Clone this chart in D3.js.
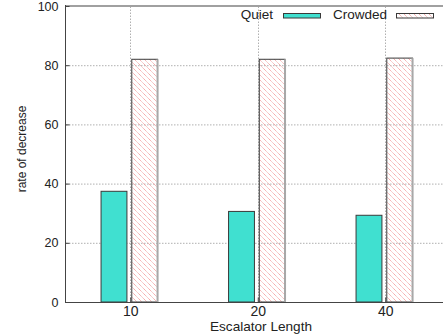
<!DOCTYPE html>
<html><head><meta charset="utf-8">
<script src="https://cdn.jsdelivr.net/npm/d3@7"></script>
<style>body{margin:0;background:#fff}svg{display:block;font-family:"Liberation Sans",Arial,sans-serif}</style>
</head><body>
<svg id="c" width="443" height="336"></svg>
<script>
const categories = ["10", "20", "40"];
const quiet = [37.4, 30.6, 29.3];
const crowded = [82.0, 82.0, 82.4];
const yTicks = [0, 20, 40, 60, 80, 100];
const seriesNames = ["Quiet", "Crowded"];

const svg = d3.select("#c");
const x = d3.scaleLinear().domain([-0.5, 2.5]).range([66.5, 449]);
const y = d3.scaleLinear().domain([0, 100]).range([302, 6]);

const defs = svg.append("defs");
const pat = defs.append("pattern").attr("id", "hatch").attr("patternUnits", "userSpaceOnUse")
  .attr("width", 5).attr("height", 5);
pat.append("path").attr("d", "M-1,-1 L6,6 M-1,4 L1,6 M4,-1 L6,1")
  .attr("stroke", "#f3a0a0").attr("stroke-width", 1).attr("stroke-dasharray", "1.2,0.6");

// grid
const g = svg.append("g");
g.selectAll("line.hg").data(yTicks.filter(d => d > 0 && d < 100)).join("line")
  .attr("x1", 66).attr("x2", 443).attr("y1", d => y(d) + 0.5).attr("y2", d => y(d) + 0.5)
  .attr("stroke", "#b0b0b0").attr("stroke-dasharray", "1.5,1.5");
g.selectAll("line.vg").data(categories).join("line")
  .attr("x1", (d, i) => Math.round(x(i)) + 0.5).attr("x2", (d, i) => Math.round(x(i)) + 0.5)
  .attr("y1", y(0)).attr("y2", y(100))
  .attr("stroke", "#b0b0b0").attr("stroke-dasharray", "1.5,1.5");

// bars
const bw0 = [-0.229, -0.026], bw1 = [0.012, 0.214];
svg.selectAll("rect.q").data(quiet).join("rect")
  .attr("x", (d, i) => x(i + bw0[0])).attr("width", (d, i) => x(i + bw0[1]) - x(i + bw0[0]))
  .attr("y", d => y(d)).attr("height", d => y(0) - y(d))
  .attr("fill", "#40e0d0").attr("stroke", "#3a3a3a").attr("stroke-width", 1);
svg.selectAll("rect.c").data(crowded).join("rect")
  .attr("x", (d, i) => x(i + bw1[0])).attr("width", (d, i) => x(i + bw1[1]) - x(i + bw1[0]))
  .attr("y", d => y(d)).attr("height", d => y(0) - y(d))
  .attr("fill", "url(#hatch)").attr("stroke", "#3a3a3a").attr("stroke-width", 1);
svg.selectAll("line.cr").data(crowded).join("line")
  .attr("x1", (d, i) => x(i + bw1[1])).attr("x2", (d, i) => x(i + bw1[1]))
  .attr("y1", d => y(d)).attr("y2", y(0))
  .attr("stroke", "#a8a8a8").attr("stroke-width", 2);

// frame
svg.append("line").attr("x1", 65).attr("x2", 443).attr("y1", 6).attr("y2", 6)
  .attr("stroke", "#a0a0a0").attr("stroke-width", 2);
svg.append("line").attr("x1", 65.5).attr("x2", 65.5).attr("y1", 5).attr("y2", 302.5)
  .attr("stroke", "#444").attr("stroke-width", 1);
svg.append("line").attr("x1", 65).attr("x2", 443).attr("y1", 302.5).attr("y2", 302.5)
  .attr("stroke", "#444").attr("stroke-width", 1);

// y axis
const ya = svg.append("g").attr("transform", "translate(65.5,0)")
  .call(d3.axisLeft(y).tickValues(yTicks).tickSizeInner(-4).tickSizeOuter(0).tickPadding(7).tickFormat(d3.format("d")));
ya.select(".domain").remove();
ya.selectAll(".tick line").attr("stroke", "#444");
ya.selectAll("text").attr("font-size", 12.5).attr("fill", "#222").attr("font-family", "Liberation Sans, Arial, sans-serif");

// x axis
const xa = svg.append("g").attr("transform", "translate(0,302.5)")
  .call(d3.axisBottom(x).tickValues([0, 1, 2]).tickSizeInner(-5).tickSizeOuter(0).tickPadding(4)
    .tickFormat((d, i) => categories[i]));
xa.select(".domain").remove();
xa.selectAll(".tick line").attr("stroke", "#444");
xa.selectAll("text").attr("font-size", 14).attr("fill", "#222").attr("font-family", "Liberation Sans, Arial, sans-serif");

svg.append("text").attr("x", 261).attr("y", 331).attr("text-anchor", "middle")
  .attr("font-size", 13.6).attr("fill", "#222").text("Escalator Length");
svg.append("text").attr("transform", "translate(26,149) rotate(-90)").attr("text-anchor", "middle")
  .attr("font-size", 12).attr("fill", "#222").text("rate of decrease");

// legend
const leg = [{tx: 273, sx: 283, fill: "#40e0d0"}, {tx: 387, sx: 396, fill: "url(#hatch)"}];
seriesNames.forEach((n, i) => {
  svg.append("text").attr("x", leg[i].tx).attr("y", 19).attr("text-anchor", "end")
    .attr("font-size", 13.5).attr("fill", "#222").text(n);
  svg.append("rect").attr("x", leg[i].sx + 0.5).attr("y", 13.5).attr("width", 37).attr("height", 4.5)
    .attr("fill", leg[i].fill).attr("stroke", "#3a3a3a").attr("stroke-width", 1);
});
</script>
</body></html>
